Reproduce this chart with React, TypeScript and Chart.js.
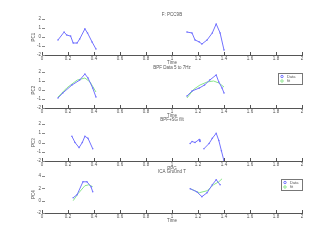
import React, { useEffect, useRef } from "react";
import { Chart, registerables } from "chart.js";

Chart.register(...registerables);

// ---- data (time in s, component values) ----
const xTickValues = [0, 0.2, 0.4, 0.6, 0.8, 1, 1.2, 1.4, 1.6, 1.8, 2];

// subplot 1
const t1a = [0.123, 0.17, 0.19, 0.22, 0.24, 0.27, 0.29, 0.33, 0.35, 0.385, 0.415];
const v1a = [-0.33, 0.55, 0.22, 0.1, -0.67, -0.67, -0.22, 0.9, 0.45, -0.55, -1.33];
const t1b = [1.115, 1.154, 1.177, 1.21, 1.23, 1.27, 1.31, 1.34, 1.37, 1.4];
const v1b = [0.55, 0.45, -0.33, -0.55, -0.78, -0.33, 0.45, 1.45, 0.45, -1.45];

// subplot 2 (data + fit)
const t2a = [0.123, 0.16, 0.23, 0.29, 0.33, 0.354, 0.39, 0.415];
const v2a = [-0.89, -0.33, 0.55, 1.1, 1.78, 1.33, 0.22, -0.78];
const t2aFit = [0.123, 0.19, 0.27, 0.33, 0.37, 0.415];
const f2a = [-0.78, 0.22, 1.1, 1.33, 0.89, -0.22];
const t2b = [1.115, 1.154, 1.21, 1.25, 1.29, 1.34, 1.36, 1.385, 1.4];
const v2b = [-0.67, -0.11, 0.22, 0.55, 1.1, 1.67, 0.89, 0.22, -0.33];
const t2bFit = [1.115, 1.17, 1.215, 1.27, 1.32, 1.36, 1.4];
const f2b = [-0.89, 0.11, 0.55, 0.89, 1.0, 0.78, 0.33];

// subplot 3
const t3a = [0.23, 0.254, 0.285, 0.31, 0.33, 0.354, 0.39];
const v3a = [0.67, 0, -0.55, 0, 0.67, 0.45, -0.67];
const t3b = [1.14, 1.154, 1.177, 1.21, 1.215];
const v3b = [-0.11, 0.11, 0, 0.33, 0.11];
const t3c = [1.246, 1.285, 1.31, 1.34, 1.36, 1.38, 1.4];
const v3c = [-0.67, -0.11, 0.45, 1.0, 0.22, -0.89, -2.0];

// subplot 4 (data + fit)
const t4a = [0.24, 0.27, 0.315, 0.346, 0.377, 0.39];
const v4a = [0.48, 0.97, 3.06, 3.06, 2.26, 1.45];
const t4aFit = [0.24, 0.277, 0.33, 0.36, 0.39];
const f4a = [0, 1.13, 2.42, 2.58, 2.26];
const t4b = [1.14, 1.19, 1.23, 1.27, 1.31, 1.34, 1.37];
const v4b = [1.94, 1.45, 0.65, 1.29, 2.58, 3.39, 2.58];
const t4bFit = [1.14, 1.21, 1.27, 1.32, 1.36, 1.385];
const f4b = [1.94, 1.29, 1.61, 2.58, 3.06, 3.55];

const titles = ["F: PCC9B", "BPF Data 5 to 7Hz", "BPF+SG filt", "ICA Ground T"];
const xLabels = ["Time", "Time", "PPG", "Time"];
const yLabels = ["PC1", "PC2", "PC3", "PC4"];
const legendLabels = ["Data", "fit"];

const BLUE = "#7272ff";
const GREEN = "#8ae68a";
const FONT = '"Liberation Sans", Arial, sans-serif';
const FS = 4.5;

function segs(...parts: [number[], number[]][]) {
  const out: { x: number; y: number | null }[] = [];
  parts.forEach(([t, v], i) => {
    if (i > 0) out.push({ x: (t[0] + out[out.length - 1].x) / 2, y: null });
    t.forEach((tx, j) => out.push({ x: tx, y: v[j] }));
  });
  return out;
}

type Sub = {
  top: number;
  bottom: number;
  yMin: number;
  yMax: number;
  yStep: number;
  data: { x: number; y: number | null }[];
  fit?: { x: number; y: number | null }[];
  legend?: { x: number; y: number; w: number; h: number };
};

const subs: Sub[] = [
  { top: 19, bottom: 55, yMin: -2, yMax: 2, yStep: 1, data: segs([t1a, v1a], [t1b, v1b]) },
  {
    top: 72, bottom: 108, yMin: -2, yMax: 2, yStep: 1,
    data: segs([t2a, v2a], [t2b, v2b]),
    fit: segs([t2aFit, f2a], [t2bFit, f2b]),
    legend: { x: 278, y: 73, w: 24, h: 11 },
  },
  { top: 124, bottom: 161, yMin: -2, yMax: 2, yStep: 1, data: segs([t3a, v3a], [t3b, v3b], [t3c, v3c]) },
  {
    top: 176, bottom: 213, yMin: -2, yMax: 4, yStep: 2,
    data: segs([t4a, v4a], [t4b, v4b]),
    fit: segs([t4aFit, f4a], [t4bFit, f4b]),
    legend: { x: 281, y: 179, w: 21, h: 11 },
  },
];

const PAD_TOP = 19;
const X_AXIS_H = 14;

const matlabPlugin = {
  id: "matlab",
  afterDraw(chart: any) {
    const o = chart.options.plugins.matlab;
    const { ctx, chartArea } = chart;
    const { left, right, top, bottom } = chartArea;
    const xs = chart.scales.x;
    const ys = chart.scales.y;
    ctx.save();
    ctx.strokeStyle = "#555";
    ctx.lineWidth = 1;
    xs.ticks.forEach((t: any) => {
      const px = Math.round(xs.getPixelForValue(t.value)) + 0.5;
      ctx.beginPath();
      ctx.moveTo(px, bottom);
      ctx.lineTo(px, bottom - 3);
      ctx.stroke();
    });
    ctx.strokeStyle = "#888";
    ys.ticks.forEach((t: any) => {
      const py = Math.round(ys.getPixelForValue(t.value)) + 0.5;
      ctx.beginPath();
      ctx.moveTo(left, py);
      ctx.lineTo(left + 3, py);
      ctx.stroke();
    });
    ctx.fillStyle = "#555";
    ctx.font = `${FS}px ${FONT}`;
    ctx.textAlign = "center";
    ctx.textBaseline = "middle";
    const cx = (left + right) / 2;
    ctx.fillText(o.title, cx, top - 4.5);
    ctx.fillText(o.xlabel, cx, bottom + 7.5);
    ctx.save();
    ctx.translate(left - 8, (top + bottom) / 2);
    ctx.rotate(-Math.PI / 2);
    ctx.fillText(o.ylabel, 0, 0);
    ctx.restore();
    if (o.legend) {
      const L = o.legend;
      const ly = L.y - (o.areaTop - PAD_TOP);
      ctx.fillStyle = "#fff";
      ctx.fillRect(L.x, ly, L.w, L.h);
      ctx.strokeStyle = "#777";
      ctx.strokeRect(L.x + 0.5, ly + 0.5, L.w, L.h);
      const rows = [
        { c: BLUE, label: o.labels[0] },
        { c: GREEN, label: o.labels[1] },
      ];
      rows.forEach((r, i) => {
        const yy = ly + 3.5 + i * 4.5;
        ctx.strokeStyle = r.c;
        ctx.beginPath();
        ctx.arc(L.x + 4, yy, 1.2, 0, Math.PI * 2);
        ctx.stroke();
        ctx.fillStyle = "#555";
        ctx.textAlign = "left";
        ctx.font = `4px ${FONT}`;
        ctx.fillText(r.label, L.x + 9, yy);
      });
    }
    ctx.restore();
  },
};

function SubChart({ sub, idx }: { sub: Sub; idx: number }) {
  const ref = useRef<HTMLCanvasElement>(null);
  useEffect(() => {
    if (!ref.current) return;
    const datasets: any[] = [
      {
        label: legendLabels[0],
        data: sub.data,
        borderColor: BLUE,
        backgroundColor: BLUE,
        borderWidth: 1,
        pointRadius: 0.8,
        pointBorderWidth: 0,
        spanGaps: false,
      },
    ];
    if (sub.fit) {
      datasets.push({
        label: legendLabels[1],
        data: sub.fit,
        borderColor: GREEN,
        backgroundColor: GREEN,
        borderWidth: 1,
        pointRadius: 0,
        spanGaps: false,
      });
    }
    const chart = new Chart(ref.current, {
      type: "line",
      data: { datasets },
      plugins: [matlabPlugin],
      options: {
        animation: false,
        responsive: false,
        devicePixelRatio: 1,
        layout: { padding: { top: PAD_TOP, left: 2, right: 32, bottom: 0 } },
        plugins: {
          legend: { display: false },
          tooltip: { enabled: false },
          matlab: {
            title: titles[idx],
            xlabel: xLabels[idx],
            ylabel: yLabels[idx],
            legend: sub.legend,
            labels: legendLabels,
            areaTop: sub.top,
          },
        } as any,
        scales: {
          x: {
            type: "linear",
            min: 0,
            max: 2,
            afterFit: (s: any) => { s.height = X_AXIS_H; },
            afterBuildTicks: (s: any) => { s.ticks = xTickValues.map((v) => ({ value: v })); },
            ticks: {
              padding: 1,
              maxRotation: 0,
              autoSkip: false,
              font: { size: FS, family: FONT },
              color: "#555",
              callback: (v: any) => String(Math.round(Number(v) * 10) / 10),
            },
            grid: { display: false, drawTicks: false },
            border: { display: true, color: "#555", width: 1 },
          },
          y: {
            min: sub.yMin,
            max: sub.yMax,
            afterFit: (s: any) => { s.width = 40; },
            ticks: {
              stepSize: sub.yStep,
              padding: 1,
              font: { size: FS, family: FONT },
              color: "#555",
            },
            grid: { display: false, drawTicks: false },
            border: { display: false },
          },
        },
      } as any,
    });
    return () => chart.destroy();
  }, [sub, idx]);
  const h = sub.bottom - sub.top + PAD_TOP + X_AXIS_H;
  return (
    <canvas
      ref={ref}
      width={334}
      height={h}
      style={{ position: "absolute", left: 0, top: sub.top - PAD_TOP, width: 334, height: h }}
    />
  );
}

export default function App() {
  return (
    <div style={{ position: "fixed", left: 0, top: 0, width: 334, height: 240, background: "#fff" }}>
      {subs.map((s, i) => (
        <SubChart key={i} sub={s} idx={i} />
      ))}
    </div>
  );
}
